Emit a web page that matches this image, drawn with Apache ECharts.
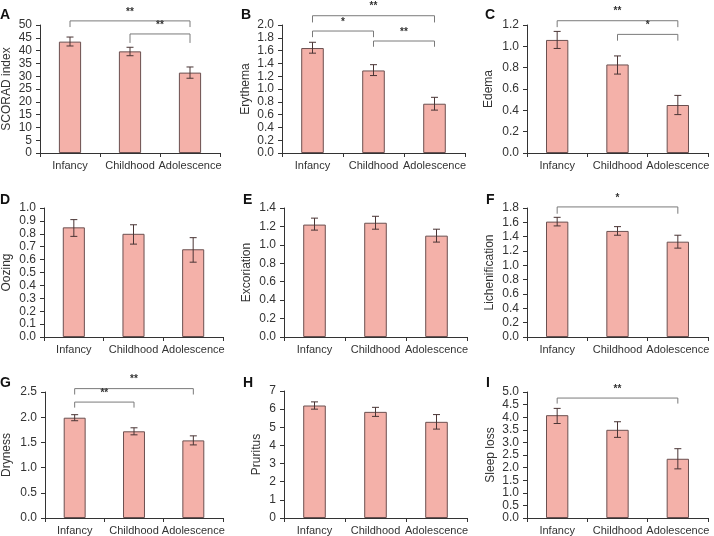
<!DOCTYPE html>
<html>
<head>
<meta charset="utf-8">
<script src="https://cdn.jsdelivr.net/npm/echarts@6/dist/echarts.min.js"></script>
<style>
  html, body { margin: 0; padding: 0; background: #fff; }
  #chart-container { width: 714px; height: 536px; }
</style>
</head>
<body>
<div id="chart-container"></div>
<script>
var dom = document.getElementById("chart-container");
var myChart = echarts.init(dom, null, { renderer: "canvas" });

const categories = ["Infancy", "Childhood", "Adolescence"];
const letters = ["A", "B", "C", "D", "E", "F", "G", "H", "I"];
const yNames = ["SCORAD index", "Erythema", "Edema", "Oozing", "Excoriation",
  "Lichenification", "Dryness", "Pruritus", "Sleep loss"];
const yMax = [50, 2.0, 1.2, 1.0, 1.4, 1.8, 2.5, 7, 5.0];
const yStep = [5, 0.2, 0.2, 0.1, 0.2, 0.2, 0.5, 1, 0.5];
const yDecimals = [0, 1, 1, 1, 1, 1, 1, 0, 1];

// mean values per panel
const means = [
  [43.5, 39.7, 31.4],
  [1.64, 1.29, 0.77],
  [1.06, 0.83, 0.45],
  [0.85, 0.80, 0.68],
  [1.22, 1.24, 1.10],
  [1.61, 1.48, 1.33],
  [1.99, 1.72, 1.54],
  [6.2, 5.85, 5.3],
  [4.08, 3.5, 2.35],
];
// error bar low / high
const lows = [
  [41.8, 38.0, 29.2],
  [1.56, 1.21, 0.67],
  [0.98, 0.74, 0.36],
  [0.78, 0.72, 0.58],
  [1.16, 1.17, 1.03],
  [1.55, 1.42, 1.24],
  [1.93, 1.65, 1.45],
  [6.0, 5.6, 4.9],
  [3.75, 3.2, 1.95],
];
const highs = [
  [45.3, 41.3, 33.6],
  [1.73, 1.38, 0.87],
  [1.14, 0.91, 0.54],
  [0.91, 0.87, 0.77],
  [1.29, 1.31, 1.17],
  [1.67, 1.54, 1.42],
  [2.05, 1.79, 1.63],
  [6.4, 6.1, 5.7],
  [4.35, 3.82, 2.75],
];
// significance brackets: [from, to, top, drop, label]
const brackets = [
  [[0, 2, 51.6, 49.2, "**"], [1, 2, 46.5, 43.0, "**"]],
  [[0, 2, 2.145, 2.04, "**"], [0, 1, 1.906, 1.81, "*"], [1, 2, 1.75, 1.66, "**"]],
  [[0, 2, 1.24, 1.18, "**"], [1, 2, 1.112, 1.053, "*"]],
  [],
  [],
  [[0, 2, 1.815, 1.72, "*"]],
  [[0, 2, 2.567, 2.45, "**"], [0, 1, 2.30, 2.19, "**"]],
  [],
  [[0, 2, 4.76, 4.54, "**"]],
];

const rects = [
  { left: 38, top: 25, width: 182, height: 128 },
  { left: 282, top: 25, width: 183, height: 128 },
  { left: 527, top: 25, width: 181, height: 128 },
  { left: 41, top: 208, width: 182, height: 129 },
  { left: 284, top: 208, width: 183, height: 129 },
  { left: 527, top: 208, width: 181, height: 129 },
  { left: 42, top: 392, width: 181, height: 127 },
  { left: 284, top: 391, width: 183, height: 128 },
  { left: 527, top: 392, width: 181, height: 127 },
];
const nameGaps = [27, 30, 32, 31, 31, 31.5, 32, 21.5, 30];
const letterPos = [[0, 8], [241, 8], [485, 8], [0, 193], [243, 193], [486, 193], [0, 376], [243, 376], [486, 376]];

const FONT = "'Liberation Sans', Arial, sans-serif";
const axisColor = "#333";

const grid = [], xAxis = [], yAxis = [], series = [], graphic = [];

rects.forEach((r, i) => {
  grid.push(Object.assign({}, r));
  xAxis.push({
    type: "category",
    gridIndex: i,
    data: categories,
    axisLine: { lineStyle: { color: axisColor, width: 1 } },
    axisTick: { show: true, length: 4, lineStyle: { color: axisColor } },
    axisLabel: { interval: 0, fontSize: 11, color: "#333", fontFamily: FONT, margin: 7 },
  });
  yAxis.push({
    type: "value",
    gridIndex: i,
    min: 0,
    max: yMax[i],
    interval: yStep[i],
    name: yNames[i],
    nameLocation: "middle",
    nameRotate: 90,
    nameGap: nameGaps[i],
    nameTextStyle: { fontSize: 12, color: "#333", fontFamily: FONT },
    splitLine: { show: false },
    axisLine: { show: true, lineStyle: { color: axisColor, width: 1 } },
    axisTick: { show: true, length: 4, lineStyle: { color: axisColor } },
    axisLabel: {
      fontSize: 12, color: "#333", fontFamily: FONT, margin: 8,
      formatter: (v) => v.toFixed(yDecimals[i]),
    },
  });
  series.push({
    type: "bar",
    xAxisIndex: i,
    yAxisIndex: i,
    barWidth: "37%",
    data: means[i],
    itemStyle: { color: "#f4b1a9", borderColor: "#6b5050", borderWidth: 1 },
    silent: true,
  });
  series.push({
    type: "custom",
    xAxisIndex: i,
    yAxisIndex: i,
    clip: false,
    silent: true,
    z: 10,
    data: categories.map((c, k) => [k, lows[i][k], highs[i][k]]),
    renderItem: (params, api) => {
      const lo = api.coord([api.value(0), api.value(1)]);
      const hi = api.coord([api.value(0), api.value(2)]);
      const w = 3.5;
      const style = { stroke: "#4a3535", lineWidth: 1 };
      return {
        type: "group",
        children: [
          { type: "line", shape: { x1: lo[0], y1: lo[1], x2: hi[0], y2: hi[1] }, style },
          { type: "line", shape: { x1: lo[0] - w, y1: lo[1], x2: lo[0] + w, y2: lo[1] }, style },
          { type: "line", shape: { x1: hi[0] - w, y1: hi[1], x2: hi[0] + w, y2: hi[1] }, style },
        ],
      };
    },
  });
  if (brackets[i].length) {
    const bl = brackets[i];
    series.push({
      type: "custom",
      xAxisIndex: i,
      yAxisIndex: i,
      clip: false,
      silent: true,
      z: 10,
      data: bl.map((b) => [b[0], b[1], b[2], b[3]]),
      renderItem: (params, api) => {
        const a = api.coord([api.value(0), api.value(2)]);
        const b = api.coord([api.value(1), api.value(2)]);
        const d = api.coord([api.value(0), api.value(3)]);
        const style = { stroke: "#7a7a7a", lineWidth: 1, fill: null };
        return {
          type: "group",
          children: [
            { type: "polyline", shape: { points: [[a[0], d[1]], a, b, [b[0], d[1]]] }, style },
            {
              type: "text",
              style: {
                text: bl[params.dataIndex][4],
                x: (a[0] + b[0]) / 2,
                y: a[1] - 4,
                align: "center",
                verticalAlign: "bottom",
                fontSize: 10,
                fontWeight: "bold",
                fill: "#333",
                fontFamily: FONT,
              },
            },
          ],
        };
      },
    });
  }
  graphic.push({
    type: "text",
    left: letterPos[i][0],
    top: letterPos[i][1],
    style: { text: letters[i], fontSize: 14, fontWeight: "bold", fill: "#111", fontFamily: FONT },
  });
});

var option = {
  animation: false,
  backgroundColor: "#fff",
  grid,
  xAxis,
  yAxis,
  series,
  graphic,
};

myChart.setOption(option);
window.addEventListener("resize", myChart.resize);
</script>
</body>
</html>
